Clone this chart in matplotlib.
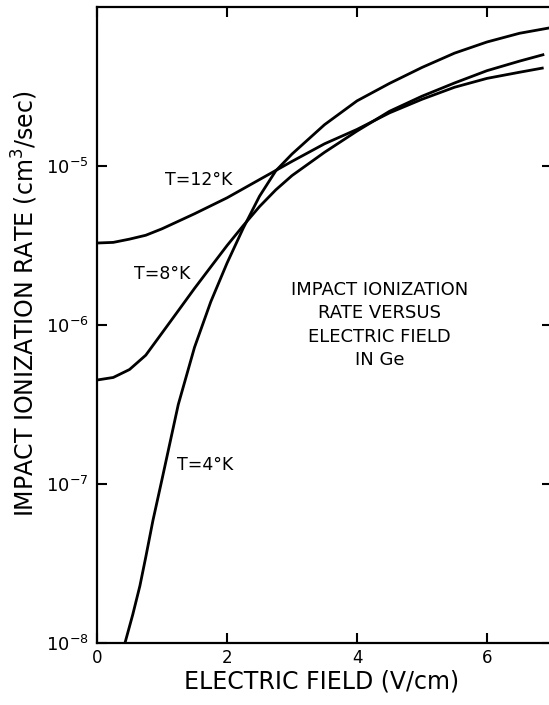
import numpy as np
import matplotlib
matplotlib.use('Agg')
import matplotlib.pyplot as plt
from matplotlib.ticker import NullLocator, FixedLocator

# data (electric field in V/cm, rate in cm^3/sec)
field_12k = [0.0, 0.25, 0.5, 0.75, 1.0, 1.5, 2.0, 2.5, 3.0, 3.5, 4.0, 4.5, 5.0, 5.5,
             6.0, 6.5, 6.85]
rate_12k = [3.28e-6, 3.31e-6, 3.47e-6, 3.67e-6, 4.03e-6, 5.01e-6, 6.31e-6, 8.22e-6,
            1.07e-5, 1.38e-5, 1.70e-5, 2.16e-5, 2.63e-5, 3.13e-5, 3.56e-5, 3.89e-5,
            4.13e-5]

field_8k = [0.0, 0.25, 0.5, 0.75, 1.0, 1.25, 1.5, 1.75, 2.0, 2.25, 2.5, 2.75, 3.0, 3.5,
            4.0, 4.5, 5.0, 5.5, 6.0, 6.5, 6.86]
rate_8k = [4.51e-7, 4.68e-7, 5.25e-7, 6.46e-7, 8.91e-7, 1.23e-6, 1.70e-6, 2.32e-6,
           3.16e-6, 4.22e-6, 5.56e-6, 7.08e-6, 8.71e-6, 1.22e-5, 1.66e-5, 2.21e-5,
           2.75e-5, 3.33e-5, 3.98e-5, 4.57e-5, 5.01e-5]

field_4k = [0.43, 0.55, 0.66, 0.75, 0.86, 1.0, 1.25, 1.5, 1.75, 2.0, 2.25, 2.5, 2.75,
            3.0, 3.5, 4.0, 4.5, 5.0, 5.5, 6.0, 6.5, 6.95]
rate_4k = [1.00e-8, 1.51e-8, 2.29e-8, 3.47e-8, 5.89e-8, 1.07e-7, 3.16e-7, 7.24e-7,
           1.40e-6, 2.45e-6, 4.07e-6, 6.46e-6, 9.33e-6, 1.19e-5, 1.82e-5, 2.57e-5,
           3.31e-5, 4.17e-5, 5.13e-5, 6.03e-5, 6.84e-5, 7.38e-5]

x_ticks = [0, 2, 4, 6]
y_ticks = [1e-8, 1e-7, 1e-6, 1e-5]

plt.rcParams['font.family'] = ['DejaVu Sans']

fig = plt.figure(figsize=(5.49, 7.05), dpi=100)
ax = fig.add_axes([0.1767, 0.0879, 0.8288, 0.9021])

for fx, ry in [(field_12k, rate_12k), (field_8k, rate_8k), (field_4k, rate_4k)]:
    ax.semilogy(fx, ry, color='black', linewidth=2.0, solid_joinstyle='round')

ax.set_xlim(0, 7)
ax.set_ylim(1e-8, 1e-4)
ax.xaxis.set_major_locator(FixedLocator(x_ticks))
ax.yaxis.set_major_locator(FixedLocator(y_ticks))
ax.xaxis.set_minor_locator(NullLocator())
ax.yaxis.set_minor_locator(NullLocator())
ax.tick_params(which='both', direction='in', top=True, right=True,
               length=7, width=1.5, color='black')
ax.tick_params(axis='x', labelsize=12, pad=4)
ax.tick_params(axis='y', labelsize=13, pad=6)

for sp in ax.spines.values():
    sp.set_linewidth(1.6)

ax.set_xlabel('ELECTRIC FIELD (V/cm)', fontsize=17)
ax.set_ylabel('IMPACT IONIZATION RATE (cm$^3$/sec)', fontsize=17)
ax.xaxis.set_label_coords(0.4934, -0.041)
ax.yaxis.set_label_coords(-0.125, 0.533)

# curve labels
ax.text(1.57, 10 ** -5.088, 'T=12°K', fontsize=12.5, ha='center', va='center')
ax.text(1.0, 10 ** -5.68, 'T=8°K', fontsize=12.5, ha='center', va='center')
ax.text(1.66, 10 ** -6.88, 'T=4°K', fontsize=12.5, ha='center', va='center')

ax.text(4.35, 1e-6, 'IMPACT IONIZATION\nRATE VERSUS\nELECTRIC FIELD\nIN Ge',
        fontsize=13, ha='center', va='center', linespacing=1.4,
        multialignment='center')

fig.savefig('out.png', dpi=100)
